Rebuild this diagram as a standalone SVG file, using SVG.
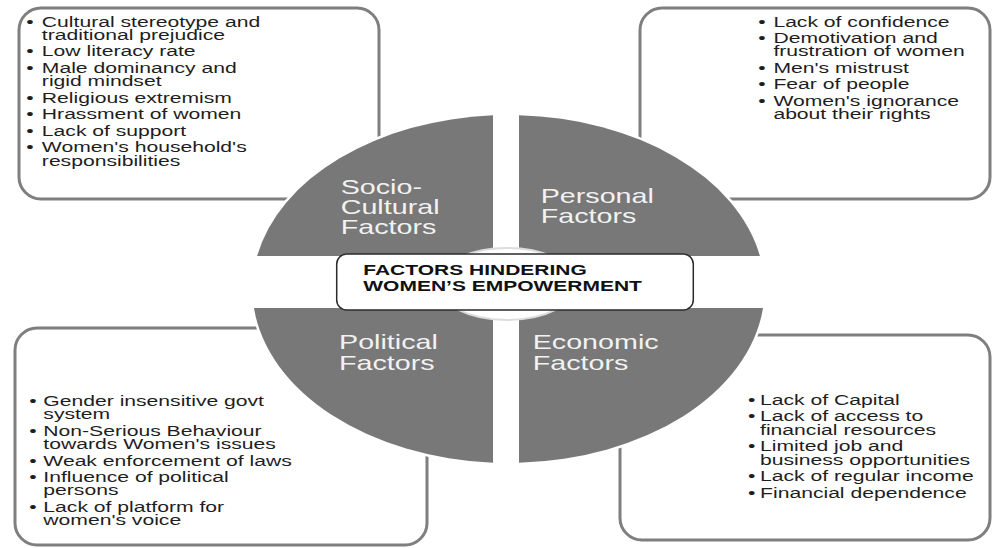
<svg xmlns="http://www.w3.org/2000/svg" width="993" height="548" viewBox="0 0 993 548">
  <style>
    .box { fill: #ffffff; stroke: #7f7f7f; stroke-width: 3; }
    .quad { fill: #787878; stroke: #ffffff; stroke-width: 5; paint-order: stroke; }
    .item { font-family: "Liberation Sans", Arial, sans-serif; font-size: 14px; fill: #1e1e1e; }
    .qlabel { font-family: "Liberation Sans", Arial, sans-serif; font-size: 20.5px; fill: #f2f2f2; }
    .title { font-family: "Liberation Sans", Arial, sans-serif; font-size: 15px; font-weight: bold; fill: #111111; }
  </style>
  <rect width="993" height="548" fill="#ffffff"/>

  <!-- Detail boxes (drawn first; the quadrants overlap their inner corners) -->
  <g id="box-socio-cultural">
    <rect class="box" x="19" y="8" width="360" height="191" rx="22"/>
    <text class="item" transform="translate(26.3,0) scale(1.51,1)">
      <tspan x="0" y="26.7">•</tspan><tspan x="10.3" y="26.7">Cultural stereotype and</tspan>
      <tspan x="10.3" y="40">traditional prejudice</tspan>
      <tspan x="0" y="56.5">•</tspan><tspan x="10.3" y="56.5">Low literacy rate</tspan>
      <tspan x="0" y="73">•</tspan><tspan x="10.3" y="73">Male dominancy and</tspan>
      <tspan x="10.3" y="86.3">rigid mindset</tspan>
      <tspan x="0" y="102.8">•</tspan><tspan x="10.3" y="102.8">Religious extremism</tspan>
      <tspan x="0" y="119.3">•</tspan><tspan x="10.3" y="119.3">Hrassment of women</tspan>
      <tspan x="0" y="135.8">•</tspan><tspan x="10.3" y="135.8">Lack of support</tspan>
      <tspan x="0" y="152.3">•</tspan><tspan x="10.3" y="152.3">Women's household's</tspan>
      <tspan x="10.3" y="165.6">responsibilities</tspan>
    </text>
  </g>

  <g id="box-personal">
    <rect class="box" x="640" y="8" width="350" height="191" rx="22"/>
    <text class="item" transform="translate(758.3,0) scale(1.51,1)">
      <tspan x="0" y="26.7">•</tspan><tspan x="10" y="26.7">Lack of confidence</tspan>
      <tspan x="0" y="43.2">•</tspan><tspan x="10" y="43.2">Demotivation and</tspan>
      <tspan x="10" y="56.5">frustration of women</tspan>
      <tspan x="0" y="73">•</tspan><tspan x="10" y="73">Men's mistrust</tspan>
      <tspan x="0" y="89.5">•</tspan><tspan x="10" y="89.5">Fear of people</tspan>
      <tspan x="0" y="106">•</tspan><tspan x="10" y="106">Women's ignorance</tspan>
      <tspan x="10" y="119.3">about their rights</tspan>
    </text>
  </g>

  <g id="box-political">
    <rect class="box" x="15" y="328" width="412" height="217" rx="22"/>
    <text class="item" transform="translate(29.3,0) scale(1.51,1)">
      <tspan x="0" y="406">•</tspan><tspan x="9.3" y="406">Gender insensitive govt</tspan>
      <tspan x="9.3" y="419.3">system</tspan>
      <tspan x="0" y="435.8">•</tspan><tspan x="9.3" y="435.8">Non-Serious Behaviour</tspan>
      <tspan x="9.3" y="449.1">towards Women's issues</tspan>
      <tspan x="0" y="465.6">•</tspan><tspan x="9.3" y="465.6">Weak enforcement of laws</tspan>
      <tspan x="0" y="482.1">•</tspan><tspan x="9.3" y="482.1">Influence of political</tspan>
      <tspan x="9.3" y="495.4">persons</tspan>
      <tspan x="0" y="511.9">•</tspan><tspan x="9.3" y="511.9">Lack of platform for</tspan>
      <tspan x="9.3" y="525.2">women's voice</tspan>
    </text>
  </g>

  <g id="box-economic">
    <rect class="box" x="620" y="335" width="370" height="205" rx="22"/>
    <text class="item" transform="translate(748,0) scale(1.51,1)">
      <tspan x="0" y="405">•</tspan><tspan x="8" y="405">Lack of Capital</tspan>
      <tspan x="0" y="421.5">•</tspan><tspan x="8" y="421.5">Lack of access to</tspan>
      <tspan x="8" y="434.8">financial resources</tspan>
      <tspan x="0" y="451.3">•</tspan><tspan x="8" y="451.3">Limited job and</tspan>
      <tspan x="8" y="464.6">business opportunities</tspan>
      <tspan x="0" y="481.1">•</tspan><tspan x="8" y="481.1">Lack of regular income</tspan>
      <tspan x="0" y="497.6">•</tspan><tspan x="8" y="497.6">Financial dependence</tspan>
    </text>
  </g>

  <!-- Four quarter segments of the central ellipse -->
  <g id="quad-socio-cultural">
    <path class="quad" d="M493,256 L257.1,256 A256,174 0 0 1 493,115.3 Z"/>
    <text class="qlabel" transform="translate(340.7,0) scale(1.4,1)">
      <tspan x="0" y="194">Socio-</tspan>
      <tspan x="0" y="214">Cultural</tspan>
      <tspan x="0" y="234">Factors</tspan>
    </text>
  </g>
  <g id="quad-personal">
    <path class="quad" d="M519,256 L519,115.2 A256,174 0 0 1 759.9,256 Z"/>
    <text class="qlabel" transform="translate(540.7,0) scale(1.4,1)">
      <tspan x="0" y="202.7">Personal</tspan>
      <tspan x="0" y="223.3">Factors</tspan>
    </text>
  </g>
  <g id="quad-political">
    <path class="quad" d="M493,308 L493,462.7 A256,174 0 0 1 254,308 Z"/>
    <text class="qlabel" transform="translate(339,0) scale(1.4,1)">
      <tspan x="0" y="349.3">Political</tspan>
      <tspan x="0" y="370">Factors</tspan>
    </text>
  </g>
  <g id="quad-economic">
    <path class="quad" d="M519,308 L763,308 A256,174 0 0 1 519,462.8 Z"/>
    <text class="qlabel" transform="translate(532.7,0) scale(1.4,1)">
      <tspan x="0" y="349.3">Economic</tspan>
      <tspan x="0" y="370">Factors</tspan>
    </text>
  </g>

  <!-- Central hub and title -->
  <g id="center">
    <ellipse cx="507" cy="284" rx="70" ry="36" fill="#ffffff" stroke="#dcdcdc" stroke-width="2"/>
    <rect x="336.7" y="254" width="356.6" height="56" rx="10" fill="#ffffff" stroke="#2a2a2a" stroke-width="1.5"/>
    <text class="title" transform="translate(363.3,0) scale(1.4,1)">
      <tspan x="0" y="275">FACTORS HINDERING</tspan>
      <tspan x="0" y="291">WOMEN’S EMPOWERMENT</tspan>
    </text>
  </g>
</svg>
